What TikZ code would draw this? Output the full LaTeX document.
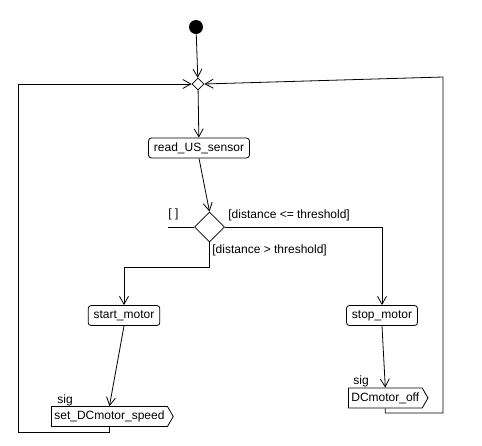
\documentclass[tikz,border=0pt]{standalone}
\usepackage{fontspec}
\setmainfont{Liberation Sans}
\usetikzlibrary{shapes.geometric,shapes.symbols,arrows.meta,positioning}
\begin{document}
\begin{tikzpicture}[x=1pt,y=-1pt,>={Straight Barb[length=8pt,width=9pt]},
			line width=0.8pt,font=\fontsize{12}{14}\selectfont,
			action/.style={draw,rounded corners=3pt,minimum height=20pt,inner xsep=5.5pt,inner ysep=0pt},
			sendsig/.style={draw,signal,signal to=east,signal pointer angle=120,
				minimum height=20pt,inner xsep=3pt,inner ysep=0pt,anchor=west},
			guard/.style={inner sep=0pt,anchor=west}]
			\def \w{482}
			\def \h{445}
			\useasboundingbox (0,0) rectangle (\w,\h);
			% Các nút
			\node[circle,fill,inner sep=0pt,minimum size=14pt] (init) at (196,27) {};
			\node[diamond,draw,inner sep=0pt,minimum size=12pt] (merge) at (198,84) {};
			\node[action] (read) at (199,148) {read\_US\_sensor};
			\node[diamond,draw,inner sep=0pt,minimum size=30pt] (dec) at (209.5,227) {};
			\node[action] (start) at (124,315.5) {start\_motor};
			\node[action] (stop) at (382,315.5) {stop\_motor};
			\node[sendsig] (speed) at (51,416.5) {set\_DCmotor\_speed};
			\node[sendsig] (off) at (348,398) {DCmotor\_off};
			\node[inner sep=0pt,anchor=south west] (sigA) at (57,406) {sig};
			\node[inner sep=0pt,anchor=south west] (sigB) at (353,387) {sig};
			% Nhãn điều kiện
			\node[guard] (gelse) at (168,214) {[ ]};
			\node[guard] (gle) at (228,215) {[distance <= threshold]};
			\node[guard] (ggt) at (212,250) {[distance > threshold]};
			\coordinate (elseend) at (168,227);
			\coordinate (gtbend) at (209.5,267);
			\coordinate (lloop) at (18,432);
			\coordinate (rloop) at (443,413);
			\coordinate (rtop) at (443,77);
			% Các cung
			\draw[->] (init) -- (merge);
			\draw[->] (merge) -- (read);
			\draw[->] (read.south) -- (dec.north);
			\draw (dec.west) -- (elseend);
			\draw[->] (dec.east) -| (stop.north);
			\draw[->] (dec.south) -- (gtbend) -| (start.north);
			\draw[->] (start.south) -- (speed.north);
			\draw[->] (stop.south) -- (off.north);
			\draw[->] (speed.south) |- (lloop) |- (merge.west);
			\draw[->] (off.south) |- (rloop) -- (rtop) -- (merge.east);
		\end{tikzpicture}
\end{document}
